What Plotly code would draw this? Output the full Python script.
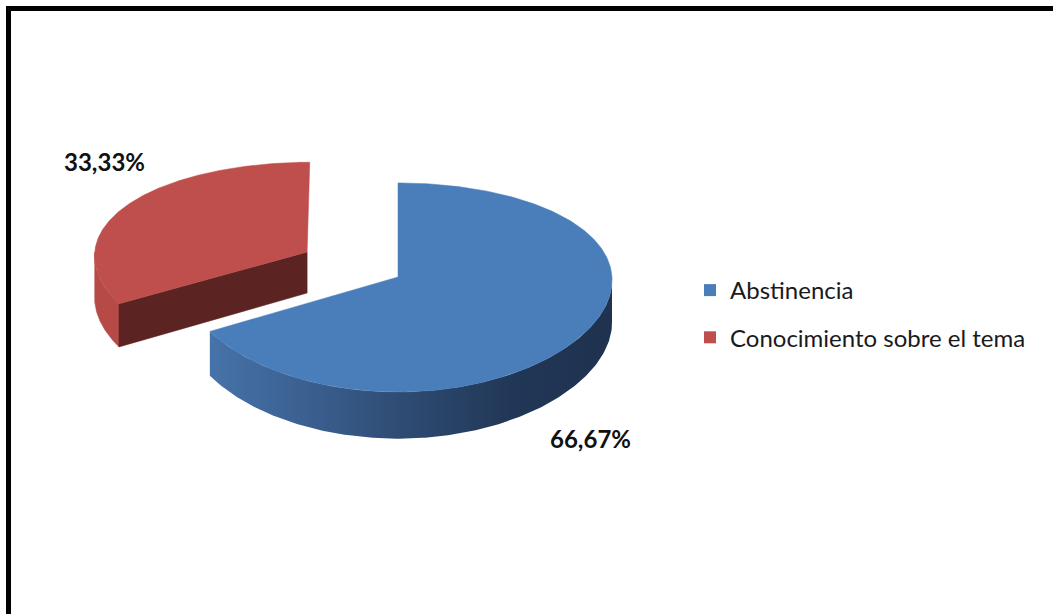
import numpy as np
import plotly.graph_objects as go

# ---------------- data ----------------
categories = ["Abstinencia", "Conocimiento sobre el tema"]
values = [66.67, 33.33]
label_text = ["66,67%", "33,33%"]

# ---------------- style / layout constants ----------------
W, H = 1053, 614
TOP_COLORS = ["#4A7EBB", "#BE4F4C"]
SIDE_GRADIENT = [[0, "#4673A9"], [0.25, "#3A5F8F"], [0.5, "#2D4A70"], [0.75, "#213757"], [1, "#1F324F"]]
RED_SIDE = "#B54A47"
RED_CUT = "#5B2422"
PULL = [0.0, 0.494]
CX, CY = 398, 277          # pie centre (pixel units on hidden axes)
RX, RY, D = 214, 103.5, 42  # radii and thickness
KX, KY = 0.03, 0.10         # perspective factors


def proj(u, v, z):
    u = np.asarray(u, float); v = np.asarray(v, float); z = np.asarray(z, float)
    sx = CX + RX * u / (1 - KX * v)
    sy = CY + (RY * v + D * z) / (1 - KY * v)
    return sx, sy


fig = go.Figure()

total = sum(values)
bounds = np.concatenate([[0], np.cumsum(values)]) / total * 360.0
slices = []
for i in range(len(values)):
    t0, t1 = bounds[i], bounds[i + 1]
    tm = np.radians((t0 + t1) / 2)
    ou, ov = PULL[i] * np.sin(tm), -PULL[i] * np.cos(tm)
    slices.append((t0, t1, ou, ov))

# draw red (back) first, then blue
order = [1, 0]
for i in order:
    t0, t1, ou, ov = slices[i]
    # outer visible side
    s0, s1 = max(t0, 90), min(t1, 270)
    if s1 > s0:
        th = np.radians(np.linspace(s0, s1, 200))
        u = ou + np.sin(th); v = ov - np.cos(th)
        xt, yt = proj(u, v, 0)
        xb, yb = proj(u[::-1], v[::-1], 1)
        xs = np.concatenate([xt, xb, xt[:1]]); ys = np.concatenate([yt, yb, yt[:1]])
        if i == 0:
            fig.add_trace(go.Scatter(x=xs, y=ys, mode="lines", fill="toself",
                                     line=dict(width=0), fillgradient=dict(type="horizontal", colorscale=SIDE_GRADIENT),
                                     hoverinfo="skip", showlegend=False))
        else:
            fig.add_trace(go.Scatter(x=xs, y=ys, mode="lines", fill="toself", fillcolor=RED_SIDE,
                                     line=dict(width=0.5, color=RED_SIDE), hoverinfo="skip", showlegend=False))
    # cut face at the trailing radial edge of the red slice (faces the viewer)
    if i == 1:
        th = np.radians(t0)
        ru, rv = ou + np.sin(th), ov - np.cos(th)
        xa, ya = proj([ou, ru, ru, ou, ou], [ov, rv, rv, ov, ov], [0, 0, 1, 1, 0])
        fig.add_trace(go.Scatter(x=xa, y=ya, mode="lines", fill="toself", fillcolor=RED_CUT,
                                 line=dict(width=0.5, color=RED_CUT), hoverinfo="skip", showlegend=False))
    # top face
    th = np.radians(np.linspace(t0, t1, 300))
    u = np.concatenate([[ou], ou + np.sin(th), [ou]])
    v = np.concatenate([[ov], ov - np.cos(th), [ov]])
    xs, ys = proj(u, v, 0)
    fig.add_trace(go.Scatter(x=xs, y=ys, mode="lines", fill="toself", fillcolor=TOP_COLORS[i],
                             line=dict(width=0.5, color=TOP_COLORS[i]), hoverinfo="skip", showlegend=False))

# legend entries
for i, name in enumerate(categories):
    fig.add_trace(go.Scatter(x=[None], y=[None], mode="markers", name=name, legendgroup=name,
                             marker=dict(symbol="square", size=12, color=TOP_COLORS[i])))

# data labels
label_pos = [(590, 438), (104, 161)]
for i in range(len(values)):
    fig.add_annotation(x=label_pos[i][0], y=label_pos[i][1], text=label_text[i], showarrow=False,
                       font=dict(family="Lato", size=24, color="#111111", weight="bold"),
                       xanchor="center", yanchor="middle")

# frame
fig.add_shape(type="rect", xref="x", yref="y", x0=8.5, y0=8.5, x1=1080, y1=650,
              line=dict(color="black", width=5), fillcolor="rgba(0,0,0,0)")

fig.update_layout(
    width=W, height=H, margin=dict(l=0, r=0, t=0, b=0),
    paper_bgcolor="white", plot_bgcolor="white",
    xaxis=dict(range=[0, W], visible=False, fixedrange=True),
    yaxis=dict(range=[H, 0], visible=False, fixedrange=True),
    showlegend=True,
    legend=dict(x=690 / W, y=1 - 268 / H, xanchor="left", yanchor="top",
                font=dict(family="Lato", size=24, color="#1a1a1a"),
                traceorder="grouped", tracegroupgap=13, bgcolor="rgba(0,0,0,0)"),
)

fig.write_html("out.html", config={"displayModeBar": False},
               post_script="document.body.style.margin='0';document.body.style.overflow='hidden';")
